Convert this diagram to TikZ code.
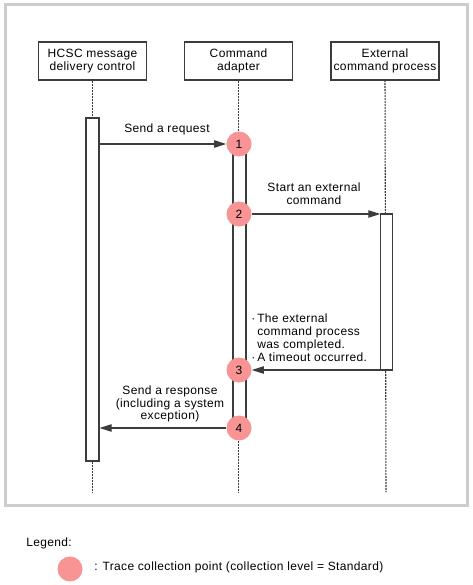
\documentclass[tikz,border=0pt]{standalone}
\usepackage{fontspec}
\setmainfont{Liberation Sans}[LetterSpace=3]
\usetikzlibrary{arrows.meta}
\definecolor{tracepink}{RGB}{248,148,148}
\definecolor{framegray}{RGB}{205,205,205}
\definecolor{linegray}{RGB}{60,60,60}
\begin{document}
\begin{tikzpicture}[x=0.75pt,y=-0.75pt,
  every node/.style={font=\fontsize{9}{9.75}\selectfont, text=black},
  lifebox/.style={draw=linegray, line width=0.8pt, fill=white, minimum width=81pt, minimum height=28.5pt, inner sep=1pt, align=center},
  actbox/.style={draw=linegray, line width=0.8pt, fill=white, minimum width=9.75pt, inner sep=0pt},
  lifeline/.style={draw=linegray, line width=0.8pt, dash pattern=on 1.5pt off 0.75pt},
  msg/.style={draw=linegray, line width=0.8pt, -{Triangle[length=9pt,width=5.5pt]}},
  trace/.style={circle, fill=tracepink, minimum size=18.75pt, inner sep=0pt},
  lbl/.style={align=center, inner sep=0pt}
]
\useasboundingbox (0,0) rectangle (472,585);
% frame
\draw[framegray, line width=2.25pt, fill=white] (5,5) rectangle (467,505);

% lifeline boxes
\node[lifebox] (hcsc) at (92.5,61) {HCSC message\\delivery control};
\node[lifebox] (cmd)  at (238.5,61) {Command\\adapter};
\node[lifebox] (ext)  at (385,61) {External\\command process};

% lifeline ends
\coordinate (hend) at (92.5,492);
\coordinate (cend) at (238.5,492);
\coordinate (eend) at (386,492);
\draw[lifeline] (hcsc.south) -- (hend);
\draw[lifeline] (cmd.south) -- (cend);
\draw[lifeline] (ext.south |- 0,80) -- (eend);

% activations
\node[actbox, minimum height=257.25pt] (hact) at (92.5,289.5) {};
\node[actbox, minimum height=213pt] (cact) at (239.5,286) {};
\node[actbox, minimum width=8.5pt, minimum height=117pt] (eact) at (386.5,292) {};

% trace points
\node[trace] (c1) at (239,144) {1};
\node[trace] (c2) at (239,214) {2};
\node[trace] (c3) at (239,370) {3};
\node[trace] (c4) at (239,428) {4};

% messages
\draw[msg] (hact.east |- c1) -- (c1);
\draw[msg] (c2) -- (eact.west |- c2);
\draw[msg] (eact.west |- c3) -- (c3);
\draw[msg] (c4) -- (hact.east |- c4);

% labels
\node[lbl] (l1) at (167,129) {Send a request};
\node[lbl] (l2) at (314,193.5) {Start an external\\command};
\node[lbl, anchor=west, align=left] (l3) at (251,338) {·\,The external\\\hphantom{·\,}command process\\\hphantom{·\,}was completed.\\·\,A timeout occurred.};
\node[lbl, font=\fontsize{9}{9.5}\selectfont] (l4) at (170,404) {Send a response\\(including a system\\exception)};

% legend
\node[anchor=west, inner sep=0pt] (leg) at (26,543) {Legend:};
\node[trace] (legc) at (70,569) {};
\node[anchor=west, inner sep=0pt] (legt) at (94,567) {: Trace collection point (collection level = Standard)};
\end{tikzpicture}
\end{document}
